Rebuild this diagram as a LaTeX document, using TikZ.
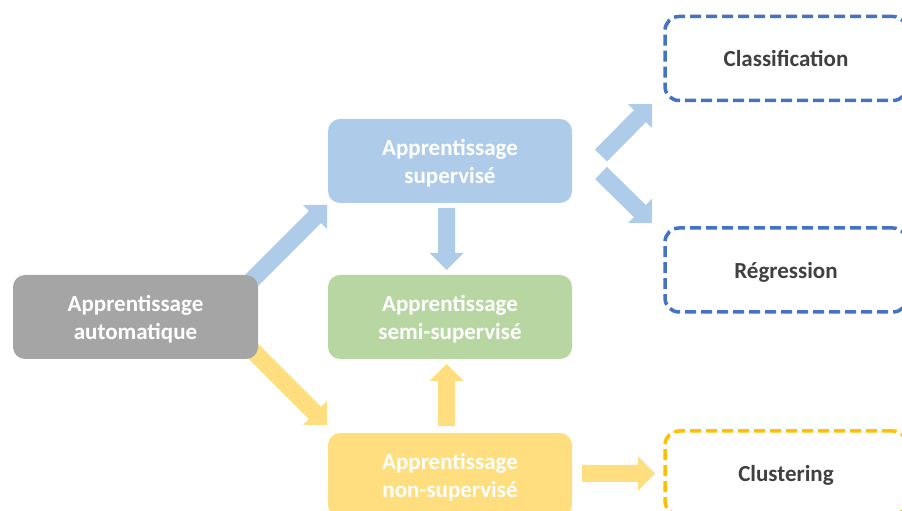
\documentclass[tikz,border=0pt]{standalone}
\usepackage{fontspec}
\setmainfont{Carlito}
\usetikzlibrary{calc}
\definecolor{cgray}{HTML}{A5A5A5}
\definecolor{cblue}{HTML}{AECCEA}
\definecolor{cgreen}{HTML}{B7D6A2}
\definecolor{cyellow}{HTML}{FFDE80}
\definecolor{dblue}{HTML}{4472C4}
\definecolor{dyellow}{HTML}{FFC000}
\definecolor{tgray}{HTML}{404040}
\newcommand\fatarrow[3]{%
  \fill[#1] let \p1=($(#3)-(#2)$), \n1={atan2(\y1,\x1)}, \n2={veclen(\x1,\y1)} in
    ($(#2)+(\n1+90:8.5)$) --
    ($(#2)+(\n1:{\n2-17})+(\n1+90:8.5)$) --
    ($(#2)+(\n1:{\n2-17})+(\n1+90:17)$) --
    (#3) --
    ($(#2)+(\n1:{\n2-17})+(\n1-90:17)$) --
    ($(#2)+(\n1:{\n2-17})+(\n1-90:8.5)$) --
    ($(#2)+(\n1-90:8.5)$) -- cycle;
}
\begin{document}
\begin{tikzpicture}[x=1pt,y=1pt,
  box/.style={rounded corners=12pt, minimum width=244pt, minimum height=84pt,
    inner sep=0pt, align=center, text=white, text depth=0pt,
    font=\bfseries\fontsize{23}{28}\selectfont},
  dbox/.style={draw=#1, line width=3.5pt, dash pattern=on 11pt off 5pt,
    rounded corners=14pt, minimum width=242pt, minimum height=84pt,
    inner sep=0pt, align=center, text=tgray, text depth=0pt,
    font=\bfseries\fontsize{23}{28}\selectfont}]
\useasboundingbox (0,0) rectangle (902,511);
\clip (0,0) rectangle (902,511);
% arrow end points
\coordinate (a1s) at (250,229); \coordinate (a1e) at (327,306);
\coordinate (a2s) at (250,163); \coordinate (a2e) at (327,86);
\coordinate (a3s) at (446.5,303); \coordinate (a3e) at (446.5,241);
\coordinate (a4s) at (446.5,85); \coordinate (a4e) at (446.5,147);
\coordinate (a5s) at (601,355.5); \coordinate (a5e) at (652,407);
\coordinate (a6s) at (601,338); \coordinate (a6e) at (652,288);
\coordinate (a7s) at (582,37.5); \coordinate (a7e) at (655,37.5);
\fatarrow{cblue}{a1s}{a1e}
\fatarrow{cyellow}{a2s}{a2e}
\fatarrow{cblue}{a3s}{a3e}
\fatarrow{cyellow}{a4s}{a4e}
\fatarrow{cblue}{a5s}{a5e}
\fatarrow{cblue}{a6s}{a6e}
\fatarrow{cyellow}{a7s}{a7e}
% boxes
\node[box, fill=cgray, minimum width=245pt] (auto) at (135.5,194) {Apprentissage\\automatique};
\node[box, fill=cblue] (sup) at (450,350) {Apprentissage\\supervisé};
\node[box, fill=cgreen] (semi) at (450,194) {Apprentissage\\semi-supervisé};
\node[box, fill=cyellow] (nonsup) at (450,36) {Apprentissage\\non-supervisé};
\node[dbox=dblue] (cls) at (786,452.5) {Classification};
\node[dbox=dblue] (reg) at (786,241) {Régression};
\node[dbox=dyellow] (clu) at (786,38) {Clustering};
\end{tikzpicture}
\end{document}
